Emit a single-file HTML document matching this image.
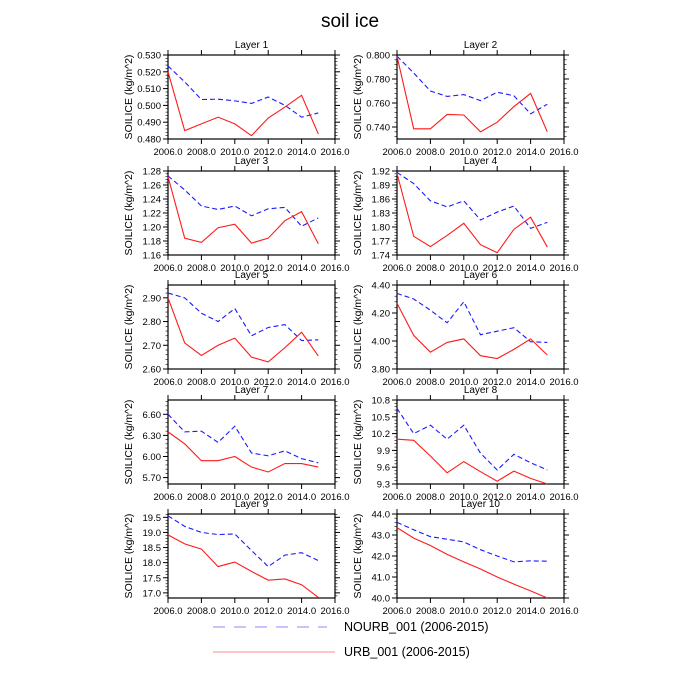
<!DOCTYPE html>
<html><head><meta charset="utf-8"><style>
html,body{margin:0;padding:0;background:#fff;}
svg{display:block;font-family:"Liberation Sans",sans-serif;}
</style></head><body>
<svg id="chart" width="700" height="700" viewBox="0 0 700 700">
<text x="350" y="27" text-anchor="middle" font-size="19">soil ice</text>
<g id="panels"></g>
<g>
<line x1="213" y1="627" x2="327" y2="627" stroke="#8888ff" stroke-width="1" stroke-dasharray="12,9"/>
<text x="344" y="631" font-size="12.5">NOURB_001 (2006-2015)</text>
<line x1="213" y1="652" x2="335" y2="652" stroke="#ff8888" stroke-width="1"/>
<text x="344" y="656" font-size="12.5">URB_001 (2006-2015)</text>
</g>
</svg>
<script>
const years = [2006,2007,2008,2009,2010,2011,2012,2013,2014,2015];
const xTicks = [2006,2008,2010,2012,2014,2016];
const nourb1 = [.5235,.514,.5035,.5037,.5027,.5012,.505,.500,.493,.4955];
const urb1 = [.520,.485,.489,.493,.489,.482,.4925,.499,.506,.483];
const nourb2 = [.799,.785,.770,.7655,.767,.762,.769,.766,.751,.759];
const urb2 = [.799,.7385,.7385,.7505,.750,.736,.744,.757,.768,.736];
const nourb3 = [1.273,1.253,1.23,1.225,1.230,1.216,1.226,1.228,1.201,1.213];
const urb3 = [1.272,1.184,1.178,1.199,1.204,1.177,1.184,1.209,1.222,1.176];
const nourb4 = [1.917,1.893,1.856,1.843,1.856,1.815,1.832,1.845,1.797,1.810];
const urb4 = [1.915,1.780,1.758,1.782,1.808,1.762,1.745,1.795,1.821,1.757];
const nourb5 = [2.92,2.90,2.835,2.80,2.855,2.74,2.775,2.787,2.72,2.723];
const urb5 = [2.90,2.71,2.657,2.70,2.73,2.65,2.63,2.69,2.755,2.655];
const nourb6 = [4.34,4.30,4.22,4.13,4.28,4.045,4.07,4.095,3.995,3.99];
const urb6 = [4.27,4.04,3.92,3.99,4.015,3.895,3.875,3.94,4.015,3.90];
const nourb7 = [6.60,6.35,6.36,6.20,6.43,6.05,6.01,6.08,5.97,5.91];
const urb7 = [6.35,6.18,5.94,5.94,6.00,5.85,5.78,5.90,5.90,5.85];
const nourb8 = [10.65,10.2,10.35,10.1,10.35,9.85,9.55,9.83,9.68,9.55];
const urb8 = [10.1,10.08,9.8,9.5,9.7,9.52,9.35,9.53,9.4,9.3];
const nourb9 = [19.55,19.2,19.0,18.93,18.95,18.4,17.87,18.25,18.33,18.07];
const urb9 = [18.92,18.62,18.45,17.87,18.02,17.71,17.42,17.46,17.27,16.85];
const nourb10 = [43.6,43.25,42.92,42.8,42.67,42.3,42.0,41.72,41.77,41.75];
const urb10 = [43.35,42.85,42.5,42.08,41.72,41.38,41.0,40.66,40.34,40.0];
const yTicks1 = [0.48,0.49,0.50,0.51,0.52,0.53];
const yTicks2 = [0.74,0.76,0.78,0.80];
const yTicks3 = [1.16,1.18,1.20,1.22,1.24,1.26,1.28];
const yTicks4 = [1.74,1.77,1.80,1.83,1.86,1.89,1.92];
const yTicks5 = [2.60,2.70,2.80,2.90];
const yTicks6 = [3.80,4.00,4.20,4.40];
const yTicks7 = [5.70,6.00,6.30,6.60];
const yTicks8 = [9.3,9.6,9.9,10.2,10.5,10.8];
const yTicks9 = [17.0,17.5,18.0,18.5,19.0,19.5];
const yTicks10 = [40.0,41.0,42.0,43.0,44.0];
const yRanges = [[0.48,0.53],[0.73,0.80],[1.16,1.28],[1.74,1.92],[2.60,2.954],[3.80,4.40],[5.609,6.803],[9.3,10.8],[16.83,19.61],[40,44]];
const yDec = [3,3,2,2,2,2,2,1,1,1];
const nourbAll = [nourb1,nourb2,nourb3,nourb4,nourb5,nourb6,nourb7,nourb8,nourb9,nourb10];
const urbAll = [urb1,urb2,urb3,urb4,urb5,urb6,urb7,urb8,urb9,urb10];
const yTicksAll = [yTicks1,yTicks2,yTicks3,yTicks4,yTicks5,yTicks6,yTicks7,yTicks8,yTicks9,yTicks10];

const NS = "http://www.w3.org/2000/svg";
const root = document.getElementById('panels');
function mk(tag, attrs, parent){const e=document.createElementNS(NS,tag);for(const k in attrs)e.setAttribute(k,attrs[k]);parent.appendChild(e);return e;}
const colX = [168,397], W = 167, H = 84;
const rowY = [55,171,285,400,514];

for(let i=0;i<10;i++){
  const L = colX[i%2], T = rowY[Math.floor(i/2)], R = L+W, B = T+H;
  const [ymin,ymax] = yRanges[i];
  const xs = v => L + (v-2006)/(10)*W;
  const ys = v => B - (v-ymin)/(ymax-ymin)*H;
  const g = mk('g',{},root);
  
  
  const t = mk('text',{x:(L+R)/2,y:T-7,'text-anchor':'middle','font-size':'10'},g);
  t.textContent = 'Layer '+(i+1);
  
  
  const yl = mk('text',{x:0,y:0,'text-anchor':'middle','font-size':'10.5','xml:space':'preserve',transform:`translate(${L-36},${(T+B)/2}) rotate(-90)`},g);
  yl.textContent = 'SOILICE  (kg/m^2)';
  
  
  xTicks.forEach(v=>{
    const x=xs(v);
    const tk=mk('line',{x1:x,y1:B,x2:x,y2:B+5,stroke:'#000','stroke-width':1},g);
    
    
    mk('line',{x1:x,y1:T,x2:x,y2:T-5,stroke:'#000','stroke-width':1},g);
    const lb=mk('text',{x:x,y:B+16,'text-anchor':'middle','font-size':'9.5'},g);
    lb.textContent=v.toFixed(1);
    
    
  });
  const yt = yTicksAll[i];
  const step = yt[1]-yt[0];
  for(let v=yt[0]-step; v<=ymax+1e-9; v+=step/5){
    if(v<ymin-1e-9) continue;
    const y=ys(v);
    mk('line',{x1:L,y1:y,x2:L-2.5,y2:y,stroke:'#000','stroke-width':0.6},g);
    mk('line',{x1:R,y1:y,x2:R+2.5,y2:y,stroke:'#000','stroke-width':0.6},g);
  }
  yt.forEach(v=>{
    const y=ys(v);
    const tk=mk('line',{x1:L,y1:y,x2:L-5,y2:y,stroke:'#000','stroke-width':1},g);
    
    
    mk('line',{x1:R,y1:y,x2:R+5,y2:y,stroke:'#000','stroke-width':1},g);
    const lb=mk('text',{x:L-7,y:y+3.5,'text-anchor':'end','font-size':'9.5'},g);
    lb.textContent=v.toFixed(yDec[i]);
    
    
  });
  const fr=mk('rect',{x:L,y:T,width:W,height:H,fill:'none',stroke:'#000','stroke-width':1.2},g);
  
  
  const pb=mk('polyline',{points:years.map((yr,j)=>xs(yr)+','+ys(nourbAll[i][j])).join(' '),fill:'none',stroke:'#1a1aff','stroke-width':1.1,'stroke-dasharray':'5,3'},g);
  
  
  const pr=mk('polyline',{points:years.map((yr,j)=>xs(yr)+','+ys(urbAll[i][j])).join(' '),fill:'none',stroke:'#ff1a1a','stroke-width':1.1},g);
  
  
}
</script>
</body></html>
